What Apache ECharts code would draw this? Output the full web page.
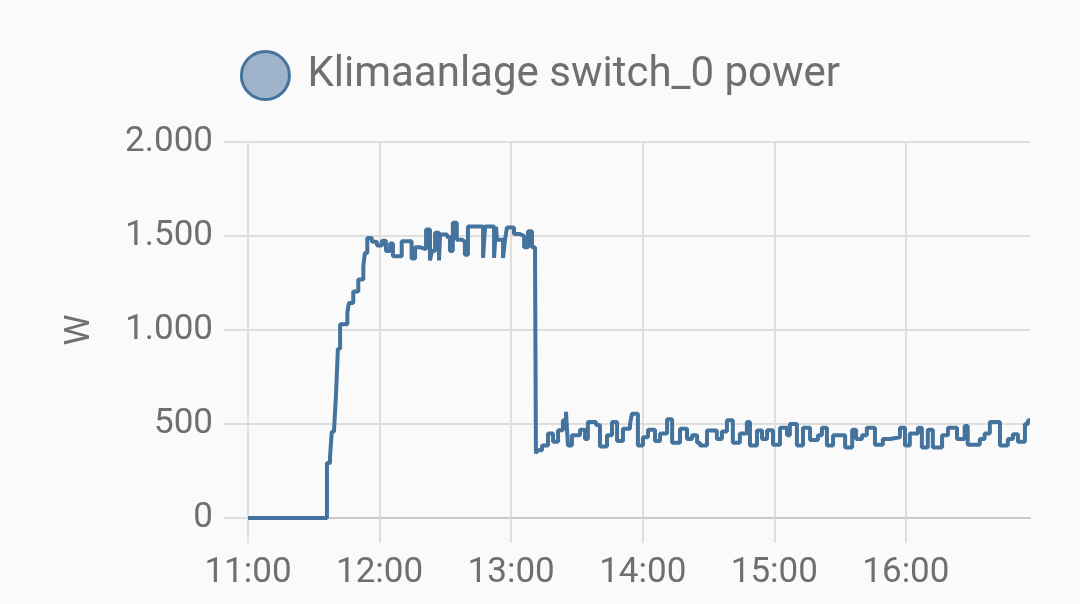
<!DOCTYPE html>
<html>
<head>
<meta charset="utf-8">
<script src="https://cdn.jsdelivr.net/npm/echarts@6/dist/echarts.min.js"></script>
<style>
  html, body { margin: 0; padding: 0; background: #fafafa; }
  #chart { width: 1080px; height: 604px; }
</style>
</head>
<body>
<div id="chart"></div>
<script>
// ---- data ----
const seriesName = "Klimaanlage switch_0 power";
const startHour = 11;                 // x axis starts at 11:00
const axisEndMinutes = 356.6;         // right edge ≈ 16:56
const hourTicks = [0, 60, 120, 180, 240, 300];  // 11:00 … 16:00
const yTicks = [0, 500, 1000, 1500, 2000];

// minutes after 11:00
const minutesAfter11 = [
  0, 36.0, 37.4, 38.2, 39.2, 40.1, 41.0, 42.0, 45.3, 46.0, 48.0, 50.3, 52.6, 53.3, 54.4,
  56.5, 58.8, 61.1, 62.9, 64.8, 66.1, 70.1, 74.6, 76.2, 78.4, 81.2, 83.0, 83.9, 85.3, 87.1,
  87.6, 90.8, 92.1, 93.4, 95.2, 97.6, 98.9, 100.3, 107.2, 108.1, 112.2, 113.1, 113.5, 116.3,
  117.2, 118.1, 121.3, 124.0, 125.9, 127.7, 129.5, 130.9, 131.3,
  131.8, 134.1, 136.8, 139.1, 141.4, 143.6, 145.0, 145.9, 147.7, 151.4, 153.7, 155.0, 158.7,
  160.5, 163.7, 166.0, 168.3, 171.0, 174.2, 175.1, 177.8, 180.1, 182.4, 185.6, 187.9, 191.1,
  193.4, 197.0, 200.2, 202.5, 204.8, 206.1, 209.3, 213.8, 216.1, 218.4, 221.1, 224.3, 227.5,
  228.9, 232.1, 234.4, 236.7, 239.4, 242.6, 245.8, 247.1, 250.3, 253.1, 256.3, 259.9, 261.7,
  264.0, 266.8, 272.3, 275.5, 277.3, 280.0, 282.2, 285.9, 289.5, 292.7, 297.3, 299.6, 301.8,
  305.5, 307.3, 310.0, 312.3, 316.5, 319.2, 323.3, 326.8, 328.2, 333.7, 335.9, 338.3, 342.9,
  346.5, 348.8, 351.1, 354.3, 355.7, 356.6
];
// power in W
const powerW = [
  0, 292, 325, 459, 460, 650, 900, 1031, 1092, 1143, 1205, 1268, 1339, 1410, 1490,
  1470, 1450, 1475, 1420, 1460, 1392, 1472, 1380, 1440, 1430, 1535, 1370, 1420, 1517, 1370,
  1508, 1495, 1420, 1570, 1480, 1470, 1400, 1550, 1383, 1550, 1383, 1550, 1480, 1383,
  1480, 1545, 1510, 1500, 1440, 1525, 1440, 1373, 343,
  360, 385, 450, 405, 467, 520, 565, 385, 440, 470, 420, 510, 495,
  380, 440, 510, 410, 475, 500, 555, 385, 430, 470, 410, 450, 525,
  400, 475, 420, 440, 400, 385, 465, 420, 460, 520, 400, 450, 510,
  385, 465, 420, 467, 390, 480, 440, 500, 385, 480, 415, 440, 480,
  385, 440, 375, 470, 420, 440, 480, 390, 420, 430, 480, 385, 450,
  480, 375, 470, 375, 440, 480, 420, 490, 390, 420, 450, 510, 385,
  420, 445, 405, 500, 520, 520
];

// ---- chart ----
const pad = n => String(n).padStart(2, '0');
const fmtTime = m => pad(startHour + Math.floor(m / 60)) + ':' + pad(Math.round(m % 60));
const fmtThousands = v => String(v).replace(/\B(?=(\d{3})+(?!\d))/g, '.');

const textColor = '#6f6f6f';
const gridColor = '#dedede';
const lineColor = '#44739e';
const font = 'Roboto';

const chart = echarts.init(document.getElementById('chart'), null, { renderer: 'canvas' });
chart.setOption({
  backgroundColor: '#fafafa',
  animation: false,
  textStyle: { fontFamily: font },
  legend: {
    show: true,
    left: 'center',
    top: 45,
    icon: 'circle',
    itemWidth: 48,
    itemHeight: 48,
    itemGap: 20,
    textStyle: { fontSize: 42, color: textColor, fontFamily: font, padding: [0, 0, 0, 13] },
    itemStyle: { color: '#9fb3ca', borderColor: lineColor, borderWidth: 3 }
  },
  grid: { left: 248, right: 50, top: 142, bottom: 86, containLabel: false },
  xAxis: {
    type: 'value',
    min: 0,
    max: axisEndMinutes,
    interval: 60,
    axisLine: { show: true, onZero: false, lineStyle: { color: '#c9c9c9', width: 2 } },
    axisTick: { show: true, customValues: hourTicks, length: 25, lineStyle: { color: gridColor, width: 2 } },
    axisLabel: {
      customValues: hourTicks,
      formatter: v => fmtTime(v),
      color: textColor, fontSize: 35, fontFamily: font, margin: 38
    },
    splitLine: { show: true, lineStyle: { color: gridColor, width: 2 } }
  },
  yAxis: {
    type: 'value',
    min: 0,
    max: 2000,
    interval: 500,
    name: 'W',
    nameLocation: 'middle',
    nameGap: 150,
    nameTextStyle: { color: textColor, fontSize: 35, fontFamily: font },
    axisLine: { show: false },
    axisTick: { show: true, customValues: yTicks, length: 24, lineStyle: { color: gridColor, width: 2 } },
    axisLabel: {
      customValues: yTicks,
      formatter: v => fmtThousands(v),
      color: textColor, fontSize: 35, fontFamily: font, margin: 35
    },
    splitLine: { show: true, lineStyle: { color: gridColor, width: 2 } }
  },
  series: [{
    name: seriesName,
    type: 'line',
    step: 'end',
    showSymbol: false,
    symbol: 'none',
    data: minutesAfter11.map((m, i) => [m, powerW[i]]),
    lineStyle: { color: lineColor, width: 4 },
    itemStyle: { color: '#9fb3ca', borderColor: lineColor, borderWidth: 3 }
  }]
});
</script>
</body>
</html>
